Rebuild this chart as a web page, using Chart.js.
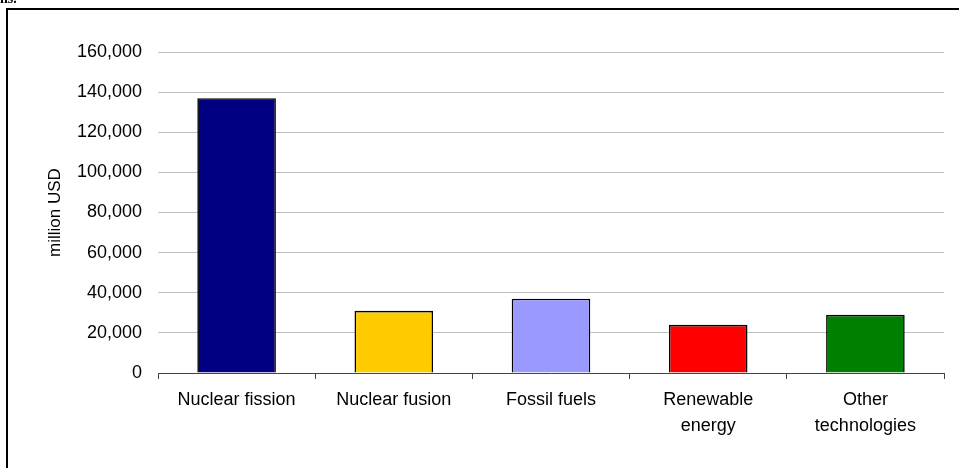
<!DOCTYPE html>
<html>
<head>
<meta charset="utf-8">
<script src="https://cdn.jsdelivr.net/npm/chart.js@4/dist/chart.umd.min.js"></script>
<style>
  html, body { margin: 0; padding: 0; background: #fff; }
  #wrap { position: relative; width: 959px; height: 468px; }
</style>
</head>
<body>
<div id="wrap"><canvas id="c"></canvas></div>
<script>
// Categories and values (million USD)
const categories = ['Nuclear fission', 'Nuclear fusion', 'Fossil fuels', ['Renewable', 'energy'], ['Other', 'technologies']];
const values = [137000, 31000, 37000, 24000, 29000];
const barColors = ['#000080', '#FFCC00', '#9999FF', '#FF0000', '#008000'];
const yTicks = [0, 20000, 40000, 60000, 80000, 100000, 120000, 140000, 160000];
const yTitle = 'million USD';

const FONT = "'Liberation Sans', Arial, sans-serif";

// Frame around the chart and the caption remnant above it
const framePlugin = {
  id: 'frame',
  afterDraw(chart) {
    const ctx = chart.ctx;
    ctx.save();
    ctx.fillStyle = '#000';
    ctx.fillRect(6, 8, 953, 2);
    ctx.fillRect(6, 8, 2, 460);
    ctx.font = "bold 14px 'Liberation Serif', serif";
    ctx.textBaseline = 'alphabetic';
    ctx.fillText('ns.', 0, 3);
    ctx.restore();
  }
};

new Chart(document.getElementById('c'), {
  type: 'bar',
  data: {
    labels: categories,
    datasets: [{
      data: values,
      backgroundColor: barColors,
      borderColor: '#000',
      borderWidth: 1.6,
      barPercentage: 0.5,
      categoryPercentage: 1.0
    }]
  },
  options: {
    responsive: true,
    maintainAspectRatio: false,
    devicePixelRatio: 1,
    animation: false,
    layout: { padding: { top: 52, right: 15, bottom: 0, left: 0 } },
    plugins: { legend: { display: false }, tooltip: { enabled: false } },
    scales: {
      x: {
        offset: true,
        grid: {
          display: true,
          drawOnChartArea: false,
          drawTicks: true,
          tickLength: 6,
          color: '#444',
          offset: true
        },
        border: { display: true, color: '#444', width: 1 },
        ticks: {
          color: '#000',
          padding: 8,
          maxRotation: 0,
          autoSkip: false,
          font: { family: FONT, size: 18, lineHeight: 1.45 }
        },
        afterFit(scale) { scale.height = 95; }
      },
      y: {
        min: 0,
        max: yTicks[yTicks.length - 1],
        afterBuildTicks(scale) { scale.ticks = yTicks.map(v => ({ value: v })); },
        grid: { color: '#c0c0c0', lineWidth: 1, drawTicks: false },
        border: { display: false },
        ticks: {
          color: '#000',
          padding: 16,
          font: { family: FONT, size: 18 },
          callback: v => Number(v).toLocaleString('en-US')
        },
        title: {
          display: true,
          text: yTitle,
          color: '#000',
          font: { family: FONT, size: 17 },
          padding: { top: 45, bottom: 0 }
        },
        afterFit(scale) { scale.width = 158; }
      }
    }
  },
  plugins: [framePlugin]
});
</script>
</body>
</html>
